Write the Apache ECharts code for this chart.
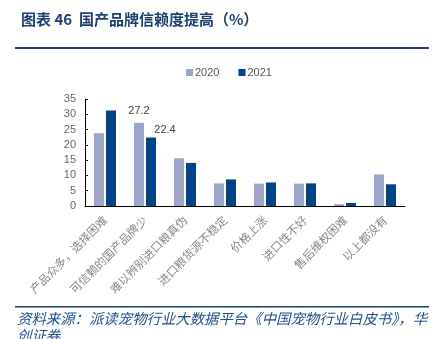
<!DOCTYPE html>
<html><head><meta charset="utf-8">
<script src="https://cdn.jsdelivr.net/npm/echarts@6/dist/echarts.min.js"></script>
<style>html,body{margin:0;padding:0;background:#fff}#c{width:441px;height:339px}</style>
</head><body><div id="c"></div>
<script>
const categories = ['产品众多，选择困难','可信赖的国产品牌少','难以辨别进口粮真伪','进口粮货源不稳定','价格上涨','进口性不好','售后维权困难','以上都没有'];
const s2020 = [23.8, 27.2, 15.6, 7.4, 7.3, 7.3, 0.6, 10.3];
const s2021 = [31.2, 22.4, 14.1, 8.7, 7.7, 7.4, 1.0, 7.1];
const yTicks = [0, 35, 5];
const labelIdx = 1;

const chart = echarts.init(document.getElementById('c'));
chart.setOption({
  animation: false,
  title: {
    text: '图表 46  国产品牌信赖度提高（%）',
    left: 16, top: 7,
    textStyle: {fontFamily: 'Noto Sans CJK SC', fontWeight: 'bold', fontSize: 15, color: '#1F3F73'}
  },
  legend: {
    top: 62, left: 181, itemWidth: 7, itemHeight: 7, itemGap: 19,
    icon: 'rect',
    textStyle: {fontFamily: 'Liberation Sans', fontSize: 11, color: '#555', padding: [0,0,0,-3]},
    data: ['2020','2021']
  },
  grid: {left: 85, right: 36, top: 99, bottom: 133},
  xAxis: {
    type: 'category', data: categories,
    axisLine: {lineStyle: {color: '#000', width: 1}},
    axisTick: {inside: true, length: 4, lineStyle: {color: '#000'}},
    axisLabel: {interval: 0, rotate: 45, fontFamily: 'Noto Sans CJK SC', fontSize: 11.5, color: '#888', margin: 12}
  },
  yAxis: {
    type: 'value', min: yTicks[0], max: yTicks[1], interval: yTicks[2],
    splitLine: {show: false},
    axisLine: {show: true, lineStyle: {color: '#000'}},
    axisTick: {show: true, inside: true, length: 3, lineStyle: {color: '#000'}},
    axisLabel: {fontFamily: 'Liberation Sans', fontSize: 11, color: '#666', margin: 9}
  },
  series: [
    {name: '2020', type: 'bar', data: s2020.map((v,i)=> i===labelIdx ? {value: v, label: {show: true, position: 'top', distance: 6}} : v),
     barWidth: 10, barGap: '20%', itemStyle: {color: '#9AA7C9'},
     label: {show: false, fontFamily: 'Liberation Sans', fontSize: 11, color: '#404040'}},
    {name: '2021', type: 'bar', data: s2021.map((v,i)=> i===labelIdx ? {value: v, label: {show: true, position: 'top', distance: 2, offset: [14, 0]}} : v),
     barWidth: 10, itemStyle: {color: '#004387'},
     label: {show: false, fontFamily: 'Liberation Sans', fontSize: 11, color: '#404040'}}
  ],
  graphic: [
    {type: 'rect', shape: {x: 15, y: 47, width: 414, height: 2}, style: {fill: '#1F3F73'}},
    {type: 'rect', shape: {x: 15, y: 306, width: 414, height: 1.5}, style: {fill: '#1F3F73'}},
    {type: 'text', left: 17, top: 310, style: {text: '资料来源：派读宠物行业大数据平台《中国宠物行业白皮书》，华\n创证券', fontFamily: 'Noto Sans CJK SC', fontSize: 14.4, fontStyle: 'italic', fill: '#1F4E8C', lineHeight: 17}}
  ]
});
</script></body></html>
